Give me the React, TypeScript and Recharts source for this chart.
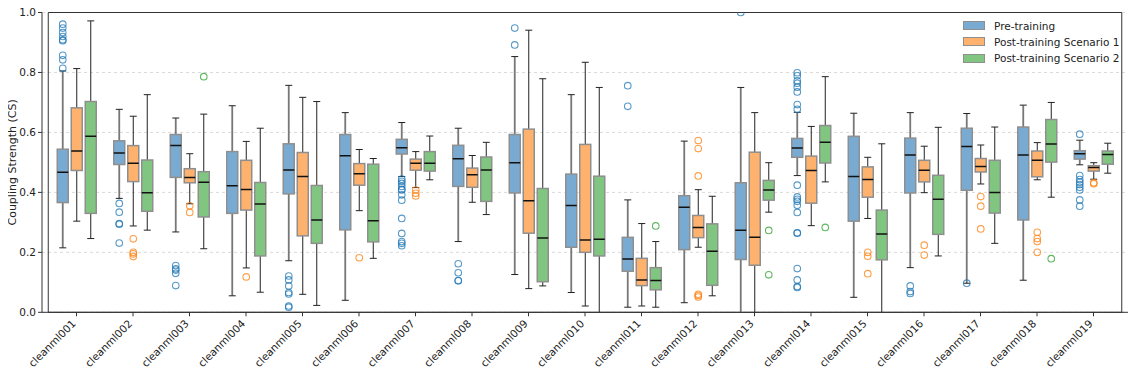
import {
  ComposedChart,
  Bar,
  XAxis,
  YAxis,
  CartesianGrid,
  Legend,
  ReferenceArea,
} from "recharts";

const FONT = "'DejaVu Sans', 'Liberation Sans', sans-serif";

const CATEGORIES = [
  "cleanml001", "cleanml002", "cleanml003", "cleanml004", "cleanml005",
  "cleanml006", "cleanml007", "cleanml008", "cleanml009", "cleanml010",
  "cleanml011", "cleanml012", "cleanml013", "cleanml014", "cleanml015",
  "cleanml016", "cleanml017", "cleanml018", "cleanml019",
];

const Y_TICKS = [0, 0.2, 0.4, 0.6, 0.8, 1.0];

// [lower whisker, q1, median, q3, upper whisker]
const PRE_STATS = [
  [0.215, 0.366, 0.467, 0.544, 0.805],
  [0.38, 0.493, 0.531, 0.572, 0.677],
  [0.268, 0.45, 0.556, 0.593, 0.648],
  [0.055, 0.33, 0.422, 0.536, 0.689],
  [0.172, 0.395, 0.475, 0.562, 0.757],
  [0.04, 0.275, 0.522, 0.593, 0.666],
  [0.453, 0.528, 0.549, 0.577, 0.633],
  [0.236, 0.42, 0.512, 0.557, 0.614],
  [0.126, 0.398, 0.499, 0.593, 0.853],
  [0.066, 0.217, 0.356, 0.461, 0.726],
  [0.017, 0.137, 0.178, 0.25, 0.375],
  [0.032, 0.209, 0.35, 0.389, 0.571],
  [-0.02, 0.176, 0.274, 0.432, 0.75],
  [0.456, 0.517, 0.548, 0.58, 0.667],
  [0.05, 0.304, 0.453, 0.587, 0.664],
  [0.149, 0.398, 0.525, 0.581, 0.666],
  [0.097, 0.407, 0.553, 0.614, 0.663],
  [0.107, 0.308, 0.525, 0.618, 0.691],
  [0.492, 0.511, 0.529, 0.539, 0.574],
];

const POST1_STATS = [
  [0.304, 0.473, 0.538, 0.682, 0.813],
  [0.288, 0.436, 0.497, 0.556, 0.654],
  [0.362, 0.432, 0.45, 0.479, 0.529],
  [0.148, 0.341, 0.41, 0.507, 0.57],
  [0.06, 0.255, 0.453, 0.533, 0.717],
  [0.339, 0.424, 0.462, 0.496, 0.543],
  [0.416, 0.474, 0.497, 0.511, 0.536],
  [0.367, 0.417, 0.459, 0.481, 0.523],
  [0.079, 0.264, 0.372, 0.611, 0.941],
  [0.021, 0.2, 0.241, 0.56, 0.834],
  [0.021, 0.089, 0.108, 0.18, 0.296],
  [0.217, 0.249, 0.283, 0.323, 0.409],
  [-0.02, 0.157, 0.25, 0.534, 0.666],
  [0.289, 0.364, 0.473, 0.521, 0.62],
  [0.313, 0.384, 0.443, 0.485, 0.517],
  [0.399, 0.435, 0.474, 0.507, 0.554],
  [0.428, 0.468, 0.486, 0.513, 0.558],
  [0.442, 0.452, 0.507, 0.538, 0.566],
  [0.444, 0.471, 0.483, 0.489, 0.499],
];

const POST2_STATS = [
  [0.246, 0.33, 0.587, 0.703, 0.972],
  [0.274, 0.337, 0.399, 0.508, 0.726],
  [0.212, 0.318, 0.434, 0.469, 0.661],
  [0.067, 0.188, 0.361, 0.433, 0.614],
  [0.023, 0.23, 0.308, 0.423, 0.703],
  [0.18, 0.235, 0.305, 0.494, 0.513],
  [0.442, 0.471, 0.497, 0.536, 0.588],
  [0.326, 0.37, 0.475, 0.518, 0.567],
  [0.088, 0.102, 0.248, 0.413, 0.779],
  [-0.02, 0.188, 0.244, 0.454, 0.75],
  [0.017, 0.075, 0.106, 0.149, 0.236],
  [0.055, 0.09, 0.204, 0.295, 0.387],
  [0.334, 0.374, 0.408, 0.44, 0.499],
  [0.435, 0.498, 0.567, 0.623, 0.786],
  [-0.02, 0.175, 0.261, 0.341, 0.562],
  [0.188, 0.26, 0.377, 0.457, 0.617],
  [0.23, 0.331, 0.4, 0.507, 0.618],
  [0.384, 0.501, 0.561, 0.643, 0.7],
  [0.464, 0.494, 0.526, 0.538, 0.564],
];

const PRE_OUTLIERS = [
  [0.961, 0.948, 0.933, 0.92, 0.909, 0.906, 0.857, 0.842, 0.814],
  [0.363, 0.334, 0.296, 0.294, 0.231],
  [0.156, 0.145, 0.141, 0.13, 0.089],
  [],
  [0.121, 0.108, 0.088, 0.066, 0.061, 0.021, 0.017],
  [],
  [0.444, 0.437, 0.43, 0.42, 0.41, 0.408, 0.392, 0.374, 0.313, 0.263, 0.236, 0.23, 0.222],
  [0.162, 0.132, 0.106, 0.105],
  [0.948, 0.892],
  [],
  [0.756, 0.687],
  [],
  [1.0],
  [0.799, 0.789, 0.772, 0.764, 0.751, 0.735, 0.693, 0.677, 0.424, 0.385, 0.377, 0.37, 0.357, 0.333, 0.265, 0.264, 0.146, 0.108, 0.086, 0.083],
  [],
  [0.088, 0.069, 0.063],
  [0.097],
  [],
  [0.594, 0.456, 0.443, 0.434, 0.426, 0.417, 0.408, 0.375, 0.354],
];

const POST1_OUTLIERS = [
  [], [0.245, 0.2, 0.195, 0.186], [0.355, 0.333], [0.118], [], [0.182],
  [0.408, 0.397, 0.388], [], [], [], [], [0.573, 0.546, 0.455, 0.06, 0.056, 0.051],
  [], [], [0.2, 0.187, 0.129], [0.224, 0.191], [0.386, 0.354, 0.278],
  [0.267, 0.246, 0.236, 0.2], [0.432, 0.429],
];

const POST2_OUTLIERS = [
  [], [], [0.786], [], [], [], [], [], [], [], [0.288], [], [0.273, 0.125],
  [0.283], [], [], [], [0.179], [],
];

const SERIES = [
  { key: "pre", name: "Pre-training", fill: "#79abd2", edge: "#1f77b4", whisker: "#777", whiskerWidth: 1.8 },
  { key: "post1", name: "Post-training Scenario 1", fill: "#ffb26e", edge: "#ff7f0e", whisker: "#222", whiskerWidth: 1 },
  { key: "post2", name: "Post-training Scenario 2", fill: "#80c680", edge: "#2ca02c", whisker: "#222", whiskerWidth: 1 },
];

const data = CATEGORIES.map((name, i) => ({
  name,
  preBox: [PRE_STATS[i][1], PRE_STATS[i][3]],
  preStats: PRE_STATS[i],
  preOut: PRE_OUTLIERS[i],
  post1Box: [POST1_STATS[i][1], POST1_STATS[i][3]],
  post1Stats: POST1_STATS[i],
  post1Out: POST1_OUTLIERS[i],
  post2Box: [POST2_STATS[i][1], POST2_STATS[i][3]],
  post2Stats: POST2_STATS[i],
  post2Out: POST2_OUTLIERS[i],
}));

// box shape: the bar covers q1..q3, everything else follows the same y scale
function boxShape(s: (typeof SERIES)[number]) {
  return (props: any) => {
    const { x, y, width, height, payload } = props;
    const [lo, q1, med, q3, hi] = payload[s.key + "Stats"];
    const out: number[] = payload[s.key + "Out"];
    const k = Math.abs(height) / (q3 - q1);
    const top = Math.min(y, y + height);
    const py = (v: number) => top + (q3 - v) * k;
    const cx = x + width / 2;
    const cap = 3.5;
    return (
      <g>
        <line x1={cx} x2={cx} y1={py(q3)} y2={py(hi)} stroke={s.whisker} strokeWidth={s.whiskerWidth} />
        <line x1={cx} x2={cx} y1={py(q1)} y2={py(lo)} stroke={s.whisker} strokeWidth={s.whiskerWidth} />
        <line x1={cx - cap} x2={cx + cap} y1={py(hi)} y2={py(hi)} stroke="#222" strokeWidth={1} />
        <line x1={cx - cap} x2={cx + cap} y1={py(lo)} y2={py(lo)} stroke="#222" strokeWidth={1} />
        <rect x={x} y={top} width={width} height={Math.abs(height)} fill={s.fill} stroke="#8f8f8f" strokeWidth={1.5} />
        <line x1={x} x2={x + width} y1={py(med)} y2={py(med)} stroke="#111" strokeWidth={1.5} />
        {out.map((v, j) => (
          <circle key={j} cx={cx} cy={py(v)} r={3.3} fill="none" stroke={s.edge} strokeOpacity={0.75} strokeWidth={1.1} />
        ))}
      </g>
    );
  };
}

function XTick({ x, y, payload }: any) {
  return (
    <text
      x={x}
      y={y + 6}
      transform={`rotate(-45, ${x}, ${y + 6})`}
      textAnchor="end"
      fontSize={10.5}
      fontFamily={FONT}
      fill="#222"
    >
      {payload.value}
    </text>
  );
}

function LegendBox() {
  return (
    <div style={{ fontFamily: FONT, fontSize: 10.5, color: "#222" }}>
      {SERIES.map((s) => (
        <div key={s.key} style={{ display: "flex", alignItems: "center", height: 16.3 }}>
          <span
            style={{
              width: 20,
              height: 7,
              background: s.fill,
              border: "1px solid #8f8f8f",
              marginRight: 9,
              display: "inline-block",
            }}
          />
          {s.name}
        </div>
      ))}
    </div>
  );
}

export default function App() {
  return (
    <div style={{ margin: -8 }}>
      <ComposedChart
        width={1138}
        height={379}
        data={data}
        barSize={11}
        barGap={3}
        margin={{ top: 12.5, right: 10, bottom: 0, left: 0 }}
      >
        <CartesianGrid horizontal vertical={false} stroke="#d9d9d9" strokeDasharray="3 3" />
        <XAxis
          dataKey="name"
          height={66.7}
          padding={{ left: 6.25, right: 6.25 }}
          tick={<XTick />}
          tickSize={4}
          interval={0}
          stroke="#333"
          tickLine={{ stroke: "#333" }}
        />
        <YAxis
          domain={[0, 1]}
          allowDataOverflow
          ticks={Y_TICKS}
          width={42}
          tickSize={4}
          tickFormatter={(v: number) => v.toFixed(1)}
          tick={{ fontSize: 10.5, fontFamily: FONT, fill: "#222" }}
          stroke="#333"
          label={{
            content: ({ viewBox }: any) => {
              const cx = viewBox.x + 13;
              const cy = viewBox.y + viewBox.height / 2;
              return (
                <text
                  x={cx}
                  y={cy}
                  transform={`rotate(-90, ${cx}, ${cy})`}
                  textAnchor="middle"
                  dominantBaseline="central"
                  fontSize={11}
                  fontFamily={FONT}
                  fill="#222"
                >
                  Coupling Strength (CS)
                </text>
              );
            },
          }}
        />
        <ReferenceArea y1={0} y2={1} fill="none" stroke="#333" strokeWidth={1} ifOverflow="visible" />
        <Legend
          layout="horizontal"
          verticalAlign="middle"
          align="center"
          content={<LegendBox />}
          wrapperStyle={{ position: "absolute", top: 17.5, left: 963, width: 165 }}
        />
        {SERIES.map((s) => (
          <Bar
            key={s.key}
            dataKey={s.key + "Box"}
            name={s.name}
            fill={s.fill}
            shape={boxShape(s)}
            activeBar={false}
            isAnimationActive={false}
          />
        ))}
      </ComposedChart>
    </div>
  );
}
